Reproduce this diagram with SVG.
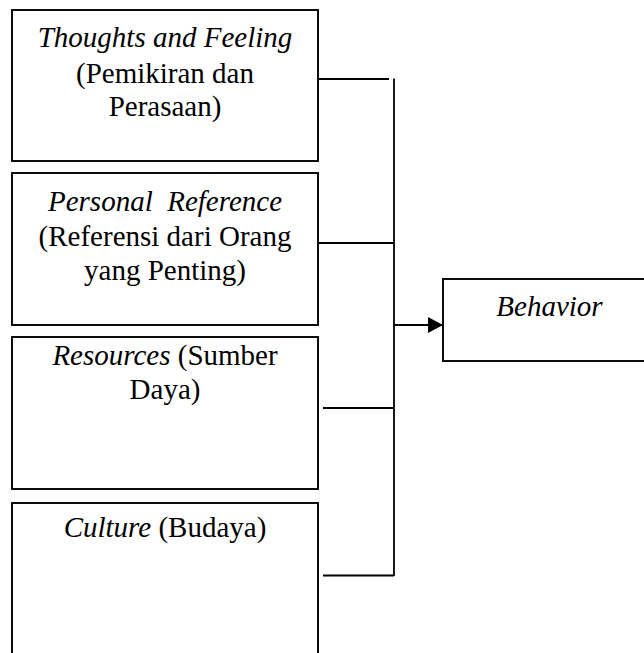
<svg xmlns="http://www.w3.org/2000/svg" width="644" height="653" viewBox="0 0 644 653">
  <style>
    .box { fill: #ffffff; stroke: #000000; stroke-width: 1.9; }
    .ln { fill: none; stroke: #000000; stroke-width: 1.8; }
    text { font-family: "Liberation Serif", "Times New Roman", serif; font-size: 29px; fill: #000000; text-anchor: middle; }
    .it { font-style: italic; }
  </style>
  <defs>
    <marker id="arrow" markerUnits="userSpaceOnUse" markerWidth="16" markerHeight="16" refX="15" refY="8" orient="auto">
      <path d="M0,0 L15,8 L0,16 Z" fill="#000000"/>
    </marker>
  </defs>
  <rect width="644" height="653" fill="#ffffff"/>

  <g id="node-thoughts">
    <rect class="box" x="12" y="10" width="306" height="151"/>
    <text x="165" y="47"><tspan class="it">Thoughts and Feeling</tspan></text>
    <text x="165" y="82.5">(Pemikiran dan</text>
    <text x="165" y="116">Perasaan)</text>
  </g>

  <g id="node-personal">
    <rect class="box" x="12" y="173" width="306" height="152"/>
    <text x="165" y="210.5" class="it">Personal&#160; Reference</text>
    <text x="165" y="246">(Referensi dari Orang</text>
    <text x="165" y="279.5">yang Penting)</text>
  </g>

  <g id="node-resources">
    <rect class="box" x="12" y="337" width="306" height="152"/>
    <text x="165" y="365"><tspan class="it">Resources</tspan> (Sumber</text>
    <text x="165" y="399">Daya)</text>
  </g>

  <g id="node-culture">
    <rect class="box" x="12" y="503" width="306" height="170"/>
    <text x="165" y="536.5"><tspan class="it">Culture</tspan> (Budaya)</text>
  </g>

  <g id="node-behavior">
    <rect class="box" x="443" y="279" width="220" height="82"/>
    <text x="549.5" y="316" class="it">Behavior</text>
  </g>

  <g id="connectors">
    <line class="ln" x1="318" y1="79" x2="389" y2="79"/>
    <line class="ln" x1="318" y1="243" x2="394" y2="243"/>
    <line class="ln" x1="323" y1="408" x2="394" y2="408"/>
    <line class="ln" x1="323" y1="575.5" x2="394" y2="575.5"/>
    <line class="ln" x1="394" y1="78.5" x2="394" y2="576"/>
    <line class="ln" x1="394" y1="325" x2="443" y2="325" marker-end="url(#arrow)"/>
  </g>
</svg>
